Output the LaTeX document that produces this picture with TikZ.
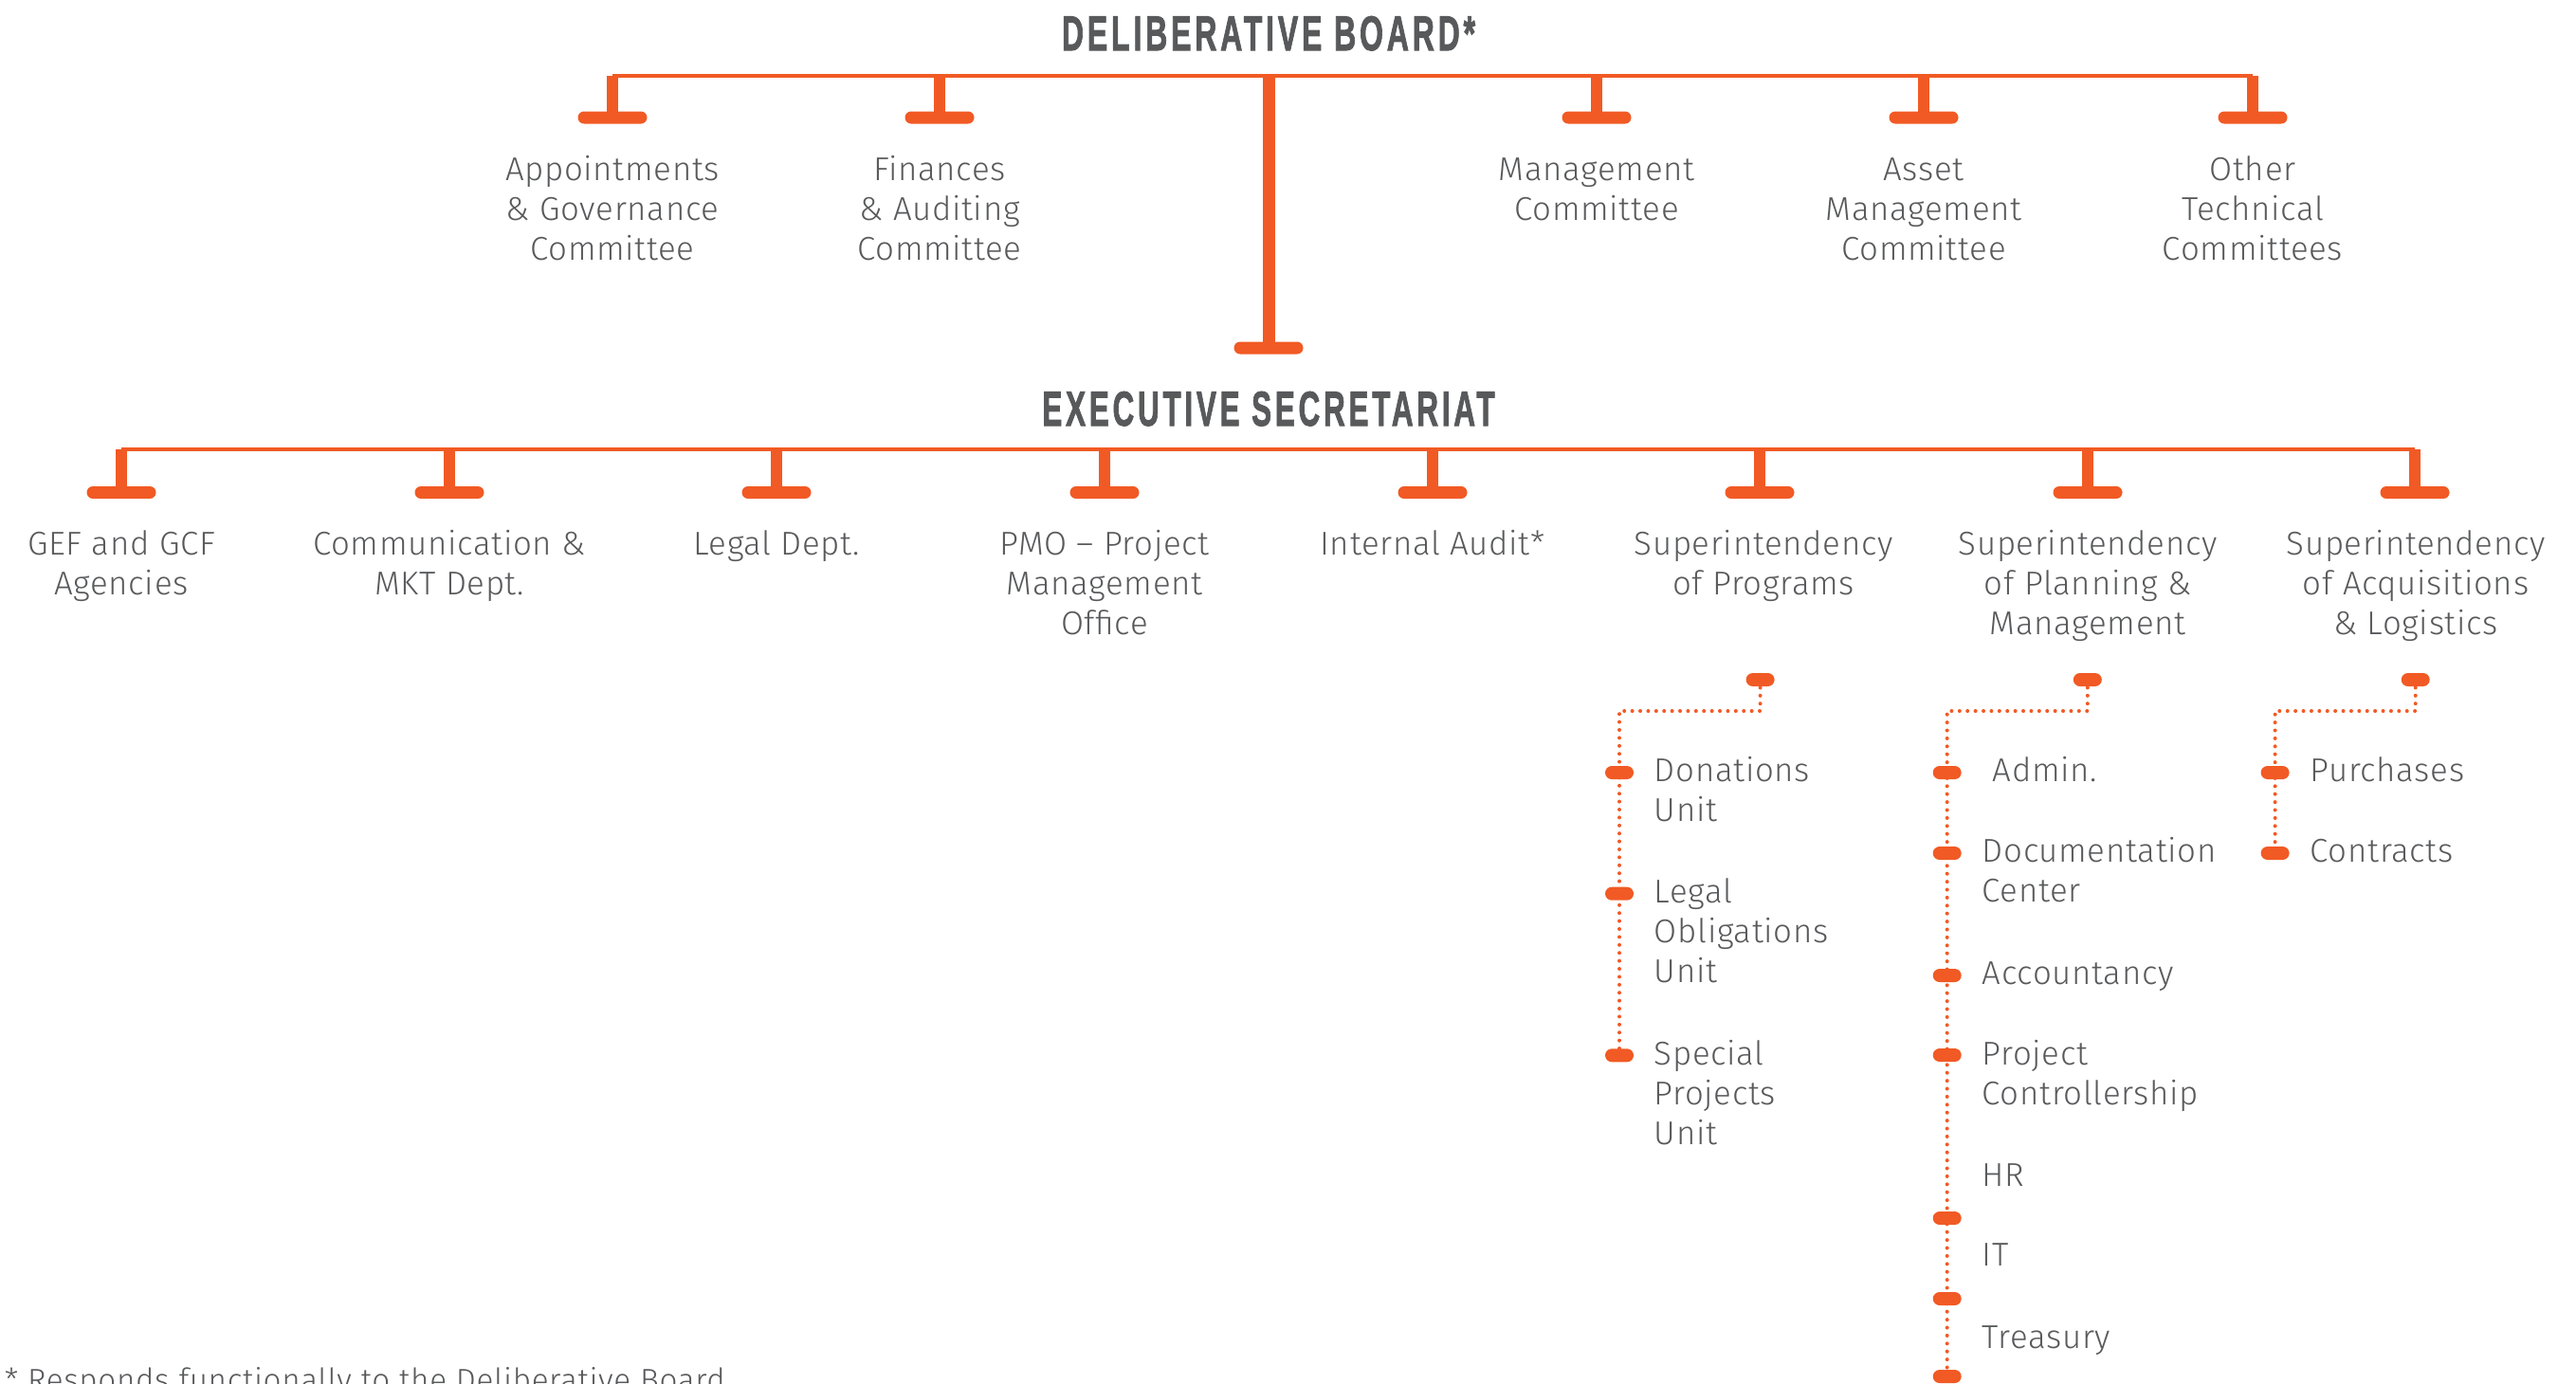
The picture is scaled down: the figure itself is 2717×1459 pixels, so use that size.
\documentclass[tikz,border=0pt]{standalone}
\usepackage{fontspec}
\setmainfont{Fira Sans Light}[LetterSpace=2]
\newfontfamily\titlefont{Liberation Sans}[BoldFeatures={LetterSpace=12,FakeBold=2}]
\definecolor{org}{HTML}{F15A24}
\definecolor{txt}{HTML}{58595B}
\newcommand\cml[1]{\begin{tabular}[t]{@{}c@{}}#1\end{tabular}}
\newcommand\lml[1]{\begin{tabular}[t]{@{}l@{}}#1\end{tabular}}
\tikzset{
  ttl/.style={font=\titlefont\bfseries\fontsize{12.9}{14}\selectfont, text=txt, anchor=base, inner sep=0pt},
  lbl/.style={font=\fontsize{8.7}{10.5}\selectfont, text=txt, anchor=base, inner sep=0pt},
  sublbl/.style={lbl, anchor=base west},
  bar/.style={fill=org, draw=none, rounded corners=1.6pt, minimum width=18.25pt, minimum height=3.25pt, inner sep=0pt},
  dotnode/.style={fill=org, draw=none, rounded corners=1.75pt, minimum width=7.5pt, minimum height=3.5pt, inner sep=0pt},
  bus/.style={draw=org, line width=1.1pt},
  stub/.style={draw=org, line width=3pt},
  trunk/.style={draw=org, line width=3.25pt},
  dotline/.style={draw=org, line width=1pt, line cap=round, dash pattern=on 0pt off 2.1pt}
}
\begin{document}
\begin{tikzpicture}[x=0.25pt,y=-0.25pt]
\useasboundingbox (0,0) rectangle (2717,1459);
% titles
\node[ttl] (db) at (1338,53) {\scalebox{0.62}[1]{DELIBERATIVE BOARD*}};
\node[ttl] (es) at (1338,449) {\scalebox{0.609}[1]{EXECUTIVE SECRETARIAT}};
% board level
\coordinate (busA) at (1338,80);
\foreach \n/\x in {app/646, fin/991, man/1684, ass/2029, oth/2376}
  \node[bar] (b\n) at (\x,124) {};
\node[bar] (bes) at (1338,367) {};
\draw[bus] (bapp.center |- busA) -- (both.center |- busA);
\foreach \n in {app,fin,man,ass,oth}
  \draw[stub] (b\n.center) -- (b\n.center |- busA);
\draw[trunk] (busA) -- (bes.center);
\node[lbl] (lapp) at (646,190) {\cml{Appointments\\\& Governance\\Committee}};
\node[lbl] (lfin) at (991,190) {\cml{Finances\\\& Auditing\\Committee}};
\node[lbl] (lman) at (1684,190) {\cml{Management\\Committee}};
\node[lbl] (lass) at (2029,190) {\cml{Asset\\Management\\Committee}};
\node[lbl] (loth) at (2376,190) {\cml{Other\\Technical\\Committees}};
% executive level
\coordinate (busB) at (1338,474);
\foreach \n/\x in {gef/128, com/474, leg/819, pmo/1165, aud/1511, pro/1856, pla/2202, acq/2547}
  \node[bar] (b\n) at (\x,519.5) {};
\draw[bus] (bgef.center |- busB) -- (bacq.center |- busB);
\foreach \n in {gef,com,leg,pmo,aud,pro,pla,acq}
  \draw[stub] (b\n.center) -- (b\n.center |- busB);
\node[lbl] (lgef) at (128,585) {\cml{GEF and GCF\\Agencies}};
\node[lbl] (lcom) at (474,585) {\cml{Communication \&\\MKT Dept.}};
\node[lbl] (lleg) at (819,585) {\cml{Legal Dept.}};
\node[lbl] (lpmo) at (1165,585) {\cml{PMO -- Project\\Management\\Office}};
\node[lbl] (laud) at (1511,585) {\cml{Internal Audit*}};
\node[lbl] (lpro) at (1860,585) {\cml{Superintendency\\of Programs}};
\node[lbl] (lpla) at (2202,585) {\cml{Superintendency\\of Planning \&\\Management}};
\node[lbl] (lacq) at (2548,585) {\cml{Superintendency\\of Acquisitions\\\& Logistics}};
% programs subtree
\node[dotnode] (tpro) at (1856.6,717) {};
\node[dotnode] (pro1) at (1708,815) {};
\node[dotnode] (pro2) at (1708,942.7) {};
\node[dotnode] (pro3) at (1708,1113.3) {};
\draw[dotline] (tpro.center) -- ++(0,33) -| (pro3.center);
\node[sublbl] (spro1) at (1744,824) {\lml{Donations\\Unit}};
\node[sublbl] (spro2) at (1744,952) {\lml{Legal\\Obligations\\Unit}};
\node[sublbl] (spro3) at (1744,1123) {\lml{Special\\Projects\\Unit}};
% planning subtree
\node[dotnode] (tpla) at (2201.8,717) {};
\foreach \i/\y in {1/815, 2/900, 3/1029, 4/1113, 5/1285, 6/1370, 7/1452}
  \node[dotnode] (pla\i) at (2053.7,\y) {};
\draw[dotline] (tpla.center) -- ++(0,33) -| (pla7.center);
\node[sublbl] (spla1) at (2101,824) {Admin.};
\node[sublbl] (spla2) at (2090,909) {\lml{Documentation\\Center}};
\node[sublbl] (spla3) at (2090,1038) {Accountancy};
\node[sublbl] (spla4) at (2090,1123) {\lml{Project\\Controllership}};
\node[sublbl] (spla5) at (2090,1251) {HR};
\node[sublbl] (spla6) at (2090,1335) {IT};
\node[sublbl] (spla7) at (2090,1422) {Treasury};
% acquisitions subtree
\node[dotnode] (tacq) at (2547.7,717) {};
\node[dotnode] (acq1) at (2399.6,815) {};
\node[dotnode] (acq2) at (2399.6,900) {};
\draw[dotline] (tacq.center) -- ++(0,33) -| (acq2.center);
\node[sublbl] (sacq1) at (2436,824) {Purchases};
\node[sublbl] (sacq2) at (2436,909) {Contracts};
% footnote
\node[sublbl, font=\fontsize{8.3}{10}\selectfont] (fn) at (4,1467) {* Responds functionally to the Deliberative Board};
\end{tikzpicture}
\end{document}
